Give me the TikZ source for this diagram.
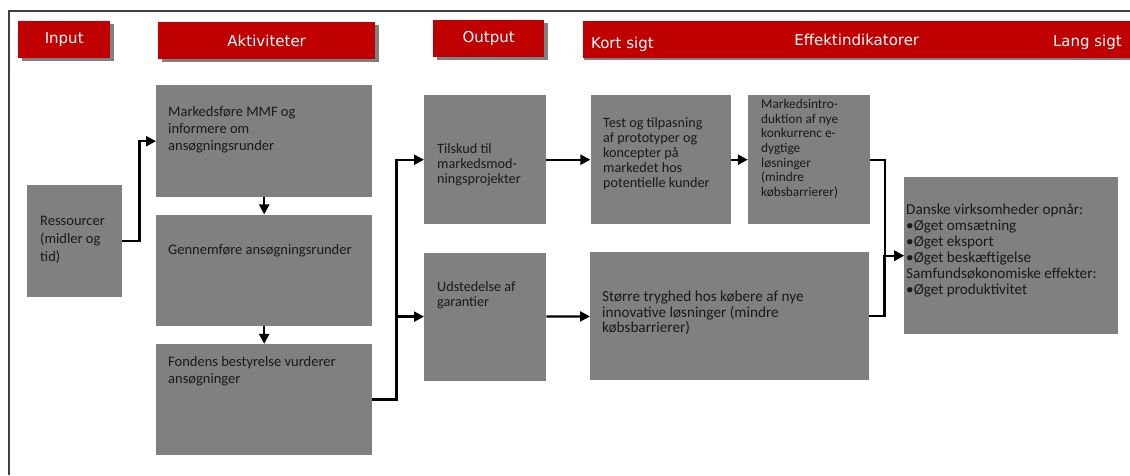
\documentclass[tikz,border=0pt]{standalone}
\usepackage{fontspec}
\setmainfont{Carlito}
\newfontfamily\headfont{DejaVu Sans}
\usepackage{tikz}
\usetikzlibrary{arrows.meta,shadows,positioning}
\definecolor{hdred}{HTML}{C00000}
\definecolor{boxgray}{HTML}{808080}
\definecolor{framegray}{HTML}{404040}
\tikzstyle{header} = [rectangle, anchor=north west, 
inner sep=0pt, 
minimum height=37pt, 
fill=hdred, 
text=white, 
font=\headfont\fontsize{15}{18}\selectfont]
\tikzstyle{hshadow} = [drop shadow={shadow xshift=4pt, shadow yshift=-3pt, fill=gray, opacity=1}]
\tikzstyle{box} = [rectangle, anchor=north west, 
inner sep=0pt, 
fill=boxgray]
\tikzstyle{txt} = [anchor=north west, inner sep=0pt, align=left, text=black!90]
\tikzstyle{arrow} = [line width=2.3pt,->,>={Triangle[length=10pt,width=10pt]}]

\begin{document}
\begin{tikzpicture}[x=1pt,y=-1pt]
\useasboundingbox (0,0) rectangle (1130,475);

% frame
\draw [framegray, line width=1.6pt] (8,11) -- (1130,11) (9,11) -- (9,475);

% headers
\node (hin) [header, hshadow, minimum width=92pt] at (18,21) {Input};
\node (hakt) [header, hshadow, minimum width=217pt] at (158,22) {Aktiviteter};
\node (hout) [header, hshadow, minimum width=111pt] at (433,20) {Output};
\node (heff) [header, minimum width=547pt, drop shadow={shadow xshift=1pt, shadow yshift=-1.5pt, fill=gray, opacity=1}] at (583,21) {Effektindikatorer};
\node (kort) [anchor=west, inner sep=0pt, text=white, font=\headfont\fontsize{15}{18}\selectfont] at (591,44) {Kort sigt};
\node (lang) [anchor=east, inner sep=0pt, text=white, font=\headfont\fontsize{15}{18}\selectfont] at (1122,42) {Lang sigt};

% boxes
\node (res) [box, minimum width=95pt, minimum height=112pt] at (27,185) {};
\node (act1) [box, minimum width=216pt, minimum height=112pt] at (156,85) {};
\node (act2) [box, minimum width=216pt, minimum height=111pt, below=17pt of act1] {};
\node (act3) [box, minimum width=216pt, minimum height=111pt, below=18pt of act2] {};
\node (out1) [box, minimum width=122pt, minimum height=129pt] at (424,95) {};
\node (out2) [box, minimum width=122pt, minimum height=128pt, below=28pt of out1] {};
\node (eff1) [box, minimum width=140pt, minimum height=129pt, right=44pt of out1] {};
\node (eff2) [box, minimum width=122pt, minimum height=129pt, right=17pt of eff1] {};
\node (eff3) [box, minimum width=279pt, minimum height=128pt] at (590,252) {};
\node (eff4) [box, minimum width=214pt, minimum height=157pt] at (904,177) {};

% texts
\node (tres) [txt, font=\fontsize{14.5}{18}\selectfont] at (40,216) {Ressourcer\\(midler og\\tid)};
\node (tact1) [txt, font=\fontsize{14.5}{17}\selectfont] at (168,106) {Markedsføre MMF og\\informere om\\ansøgningsrunder};
\node (tact2) [txt, font=\fontsize{14.5}{17}\selectfont] at (168,244) {Gennemføre ansøgningsrunder};
\node (tact3) [txt, font=\fontsize{14.5}{17}\selectfont] at (168,356) {Fondens bestyrelse vurderer\\ansøgninger};
\node (tout1) [txt, font=\fontsize{14.2}{15}\selectfont] at (437,143) {Tilskud til\\markedsmod-\\ningsprojekter};
\node (tout2) [txt, font=\fontsize{14.2}{15}\selectfont] at (437,281) {Udstedelse af\\garantier};
\node (teff1) [txt, font=\fontsize{14.2}{15}\selectfont] at (603,117) {Test og tilpasning\\af prototyper og\\koncepter på\\markedet hos\\potentielle kunder};
\node (teff2) [txt, font=\fontsize{13.3}{14.7}\selectfont] at (761,99) {Markedsintro-\\duktion af nye\\konkurrenc e-\\dygtige\\løsninger\\(mindre\\købsbarrierer)};
\node (teff3) [txt, font=\fontsize{15.2}{15.3}\selectfont] at (602,291) {Større tryghed hos købere af nye\\innovative løsninger (mindre\\købsbarrierer)};
\node (teff4) [txt, font=\fontsize{15.2}{16}\selectfont] at (906,204) {Danske virksomheder opnår:\\•Øget omsætning\\•Øget eksport\\•Øget beskæftigelse\\Samfundsøkonomiske effekter:\\•Øget produktivitet};

% connectors
\draw [arrow] (res.east) -- ++(17,0) |- (act1.west);
\draw [arrow] (act1) -- (act2);
\draw [arrow] (act2) -- (act3);
\draw [arrow] (act3.east) -- ++(24,0) |- (out1.west);
\draw [arrow] (act3.east) -- ++(24,0) |- (out2.west);
\draw [arrow] (out1) -- (eff1);
\draw [arrow] (eff1) -- (eff2);
\draw [arrow] (out2) -- (eff3);
\draw [arrow] (eff2.east) -- ++(15,0) |- (eff4.west);
\draw [arrow] (eff3.east) -- ++(15,0) |- (eff4.west);

\end{tikzpicture}
\end{document}
